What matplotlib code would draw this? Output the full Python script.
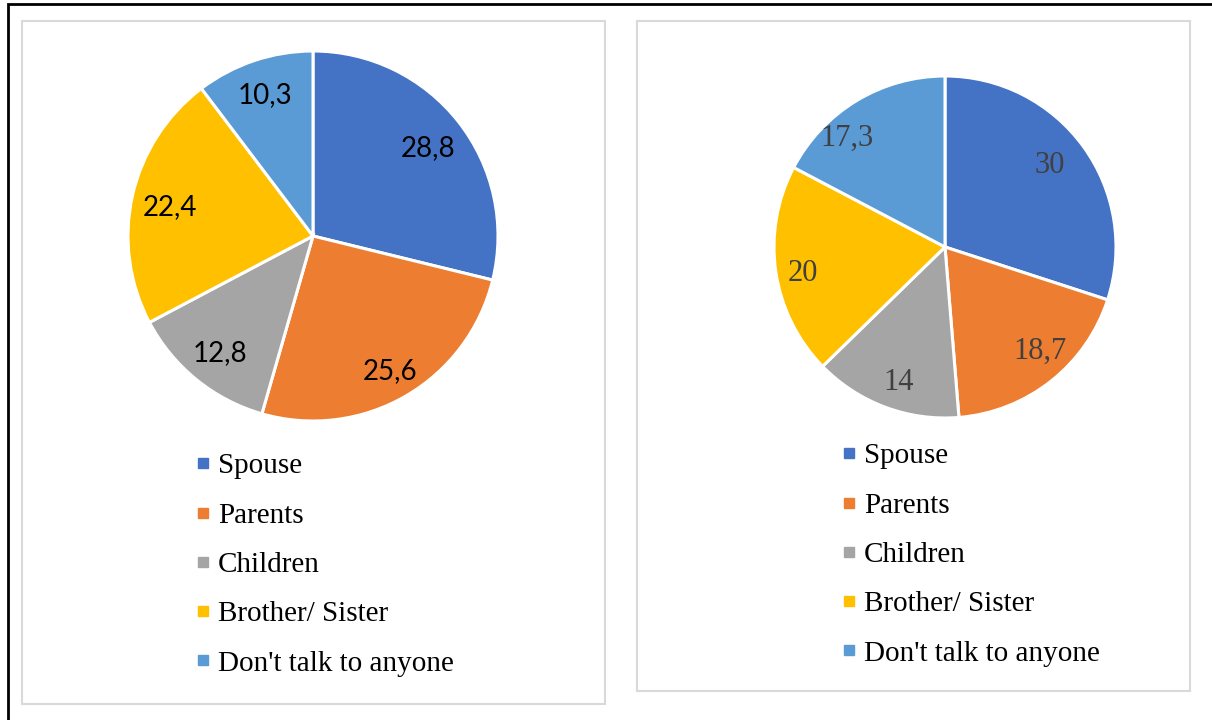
import matplotlib
matplotlib.use("Agg")
import numpy as np
import matplotlib.pyplot as plt
from matplotlib.patches import Rectangle
from matplotlib.lines import Line2D

categories = ["Spouse", "Parents", "Children", "Brother/ Sister", "Don't talk to anyone"]
left_values = [28.8, 25.6, 12.8, 22.4, 10.3]
left_labels = ["28,8", "25,6", "12,8", "22,4", "10,3"]
right_values = [30, 18.7, 14, 20, 17.3]
right_labels = ["30", "18,7", "14", "20", "17,3"]
colors = ["#4472C4", "#ED7D31", "#A5A5A5", "#FFC000", "#5B9BD5"]

# label placement (style): radial fraction and angular nudge (deg) per slice
left_label_dist = [0.79, 0.83, 0.80, 0.79, 0.82]
left_label_dang = [0, 0, 0, 0, 0]
right_label_dist = [0.79, 0.81, 0.82, 0.84, 0.87]
right_label_dang = [3, 5, 1, 1, 10]

W, H = 1212, 720
fig = plt.figure(figsize=(W / 100, H / 100), dpi=100)
fig.patch.set_facecolor("white")


def fx(x):
    return x / W


def fy(y):
    return 1 - y / H


# outer black frame
fig.add_artist(Rectangle((fx(7.5), fy(730)), fx(1230), (730 - 4.5) / H,
                         transform=fig.transFigure, fill=False,
                         edgecolor="black", linewidth=2.0))
# panel frames
for (x0, y0, x1, y1) in [(21.5, 20.5, 604.5, 703.5), (637, 20.5, 1190, 690.5)]:
    fig.add_artist(Rectangle((fx(x0), fy(y1)), fx(x1 - x0), (y1 - y0) / H,
                             transform=fig.transFigure, fill=False,
                             edgecolor="#d9d9d9", linewidth=1.5))


def pie_axes(cx, cy, r):
    ax = fig.add_axes([fx(cx - r), fy(cy + r), fx(2 * r), 2 * r / H])
    ax.axis("off")
    return ax


def finish(ax, wedges, texts, dists, dangs):
    for w, t, d, da in zip(wedges, texts, dists, dangs):
        ang = np.deg2rad((w.theta1 + w.theta2) / 2 + da)
        t.set_position((d * np.cos(ang), d * np.sin(ang)))
        t.set_horizontalalignment("center")
        t.set_verticalalignment("center_baseline")
    ax.set_xlim(-1, 1)
    ax.set_ylim(-1, 1)
    ax.set_aspect("equal", adjustable="box")
    ax.axis("off")


axL = pie_axes(313, 236, 185)
wedges, texts = axL.pie(left_values, labels=left_labels, colors=colors,
                        startangle=90, counterclock=False, radius=1,
                        labeldistance=0.79,
                        wedgeprops=dict(edgecolor="white", linewidth=2.2),
                        textprops=dict(fontsize=20, family="Lato", color="black"))
finish(axL, wedges, texts, left_label_dist, left_label_dang)

axR = pie_axes(945, 247, 171)
wedgesR, textsR = axR.pie(right_values, labels=right_labels, colors=colors,
                          startangle=90, counterclock=False, radius=1,
                          labeldistance=0.79,
                          wedgeprops=dict(edgecolor="white", linewidth=2.2),
                          textprops=dict(fontsize=22, family="Liberation Serif",
                                         color="#404040"))
finish(axR, wedgesR, textsR, right_label_dist, right_label_dang)


def make_legend(x_marker, y_first):
    handles = [Line2D([], [], linestyle="none", marker="s", markersize=7,
                      markerfacecolor=c, markeredgecolor=c) for c in colors]
    fs = 21
    leg = fig.legend(handles, categories, loc="upper left",
                     bbox_to_anchor=(fx(x_marker - 7), fy(y_first - 10)),
                     bbox_transform=fig.transFigure,
                     frameon=False, borderpad=0, borderaxespad=0,
                     handlelength=0.5, handletextpad=0.25, labelspacing=0.785,
                     prop=dict(family="Liberation Serif", size=fs))
    return leg


make_legend(203, 463)
make_legend(849, 453)

fig.savefig("out.png", dpi=100, facecolor="white")
